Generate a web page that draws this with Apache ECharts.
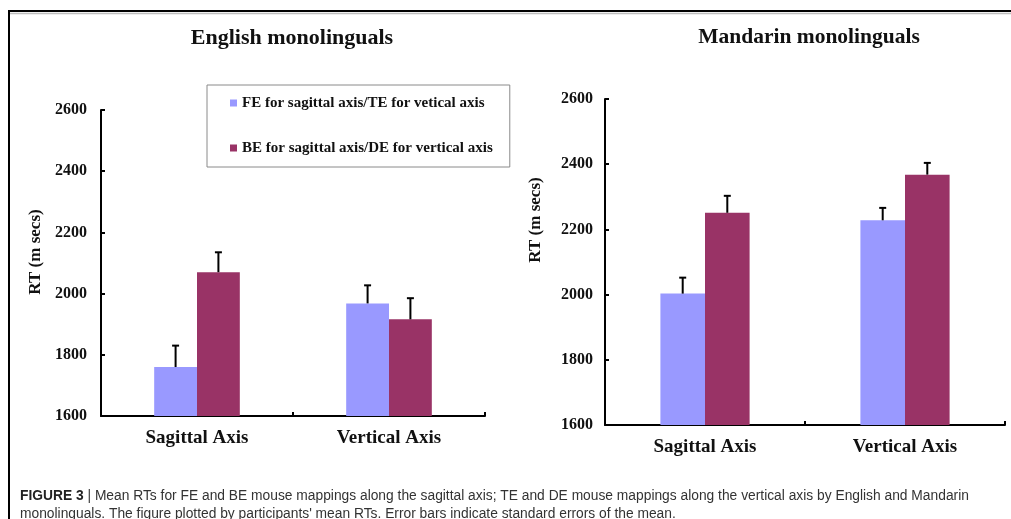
<!DOCTYPE html>
<html>
<head>
<meta charset="utf-8">
<script src="https://cdn.jsdelivr.net/npm/echarts@6/dist/echarts.min.js"></script>
<style>
  html, body { margin: 0; padding: 0; background: #fff; }
  #chart { width: 1011px; height: 519px; }
</style>
</head>
<body>
<div id="chart"></div>
<script>
// Categories and legend names
const categories = ['Sagittal Axis', 'Vertical Axis'];
const seriesNames = [
  'FE for sagittal axis/TE for vetical axis',
  'BE for sagittal axis/DE for vertical axis'
];

// Y-axis ticks (RT in ms)
const yTicks = [1600, 1800, 2000, 2200, 2400, 2600];

// English monolinguals: means and standard errors
const englishFE = [1760, 1968];
const englishFEse = [70, 59];
const englishBE = [2070, 1916];
const englishBEse = [65, 69];

// Mandarin monolinguals: means and standard errors
const mandarinFE = [2003, 2228];
const mandarinFEse = [49, 38];
const mandarinBE = [2251, 2368];
const mandarinBEse = [52, 36];

const COLOR_FE = '#9999FF';
const COLOR_BE = '#993366';
const BAR_FRAC = 0.223;
const SERIF = '"Liberation Serif", "Times New Roman", serif';
const SANS = '"Liberation Sans", Arial, sans-serif';

const chart = echarts.init(document.getElementById('chart'));

function xAxisFor(gridIndex) {
  return {
    type: 'category', gridIndex, data: categories,
    axisLine: { show: true, lineStyle: { color: '#000', width: 2 } },
    axisTick: { show: true, interval: 0, inside: true, length: 4, lineStyle: { color: '#000', width: 2 } },
    axisLabel: { color: '#111', fontFamily: SERIF, fontWeight: 'bold', fontSize: 19, margin: 13 }
  };
}

function yAxisFor(gridIndex, margin) {
  return {
    type: 'value', gridIndex,
    min: yTicks[0], max: yTicks[yTicks.length - 1], interval: yTicks[1] - yTicks[0],
    axisLine: { show: true, lineStyle: { color: '#000', width: 2 } },
    axisTick: { show: true, inside: true, length: 4, lineStyle: { color: '#000', width: 2 } },
    splitLine: { show: false },
    axisLabel: {
      color: '#111', fontFamily: SERIF, fontWeight: 'bold', fontSize: 16, margin,
      formatter: v => String(v)
    }
  };
}

function barSeries(gridIndex, name, values, color) {
  return {
    type: 'bar', name, xAxisIndex: gridIndex, yAxisIndex: gridIndex,
    data: values, barWidth: (BAR_FRAC * 100) + '%', barGap: '0%',
    itemStyle: { color }, silent: true
  };
}

// Upward-only error bars with a short cap, centered on each bar
function errorSeries(gridIndex, means, errs, side) {
  return {
    type: 'custom', xAxisIndex: gridIndex, yAxisIndex: gridIndex, silent: true, z: 5,
    data: means.map((m, i) => [i, m, m + errs[i]]),
    renderItem(params, api) {
      const band = api.size([1, 0])[0];
      const base = api.coord([api.value(0), api.value(1)]);
      const top = api.coord([api.value(0), api.value(2)]);
      const x = base[0] + side * band * BAR_FRAC / 2;
      return {
        type: 'group',
        children: [
          { type: 'line', shape: { x1: x, y1: base[1], x2: x, y2: top[1] }, style: { stroke: '#000', lineWidth: 2 } },
          { type: 'line', shape: { x1: x - 3.5, y1: top[1], x2: x + 3.5, y2: top[1] }, style: { stroke: '#000', lineWidth: 2 } }
        ]
      };
    }
  };
}

function textEl(text, x, y, size, rotation) {
  return {
    type: 'text', x, y, rotation: rotation || 0, silent: true,
    style: {
      text, textAlign: 'center', textVerticalAlign: 'middle',
      fontFamily: SERIF, fontWeight: 'bold', fontSize: size, fill: '#111'
    }
  };
}

const option = {
  animation: false,
  backgroundColor: '#fff',
  grid: [
    { left: 101, top: 110, width: 384, height: 306 },
    { left: 605, top: 99, width: 400, height: 326 }
  ],
  xAxis: [xAxisFor(0), xAxisFor(1)],
  yAxis: [yAxisFor(0, 14), yAxisFor(1, 12)],
  legend: {
    data: seriesNames,
    orient: 'vertical',
    left: 207, top: 85,
    padding: [9, 17, 10, 23],
    itemGap: 27,
    itemWidth: 7, itemHeight: 7,
    icon: 'rect',
    borderColor: '#8a8a8a', borderWidth: 1,
    backgroundColor: '#fff',
    selectedMode: false,
    textStyle: { fontFamily: SERIF, fontWeight: 'bold', fontSize: 15, color: '#111', lineHeight: 18 }
  },
  series: [
    barSeries(0, seriesNames[0], englishFE, COLOR_FE),
    barSeries(0, seriesNames[1], englishBE, COLOR_BE),
    barSeries(1, seriesNames[0], mandarinFE, COLOR_FE),
    barSeries(1, seriesNames[1], mandarinBE, COLOR_BE),
    errorSeries(0, englishFE, englishFEse, -1),
    errorSeries(0, englishBE, englishBEse, 1),
    errorSeries(1, mandarinFE, mandarinFEse, -1),
    errorSeries(1, mandarinBE, mandarinBEse, 1)
  ],
  graphic: [
    // Figure frame
    { type: 'line', silent: true, shape: { x1: 9, y1: 11, x2: 1011, y2: 11 }, style: { stroke: '#000', lineWidth: 2 } },
    { type: 'line', silent: true, shape: { x1: 10, y1: 13.5, x2: 1011, y2: 13.5 }, style: { stroke: '#bdbdbd', lineWidth: 1.5 } },
    { type: 'line', silent: true, shape: { x1: 9, y1: 10, x2: 9, y2: 519 }, style: { stroke: '#000', lineWidth: 2 } },
    // Panel titles
    textEl('English monolinguals', 292, 38, 22),
    textEl('Mandarin monolinguals', 809, 37, 21.5),
    // Y-axis titles
    textEl('RT (m secs)', 36, 252, 17, Math.PI / 2),
    textEl('RT (m secs)', 536, 220, 17, Math.PI / 2),
    // Caption
    {
      type: 'text', x: 20, y: 496, silent: true,
      style: {
        text: '{b|FIGURE 3} | Mean RTs for FE and BE mouse mappings along the sagittal axis; TE and DE mouse mappings along the vertical axis by English and Mandarin',
        textVerticalAlign: 'middle',
        fontFamily: SANS, fontSize: 13.8, fill: '#333',
        rich: { b: { fontWeight: 'bold', fontFamily: SANS, fontSize: 13.8, fill: '#222' } }
      }
    },
    {
      type: 'text', x: 20, y: 514, silent: true,
      style: {
        text: "monolinguals. The figure plotted by participants' mean RTs. Error bars indicate standard errors of the mean.",
        textVerticalAlign: 'middle',
        fontFamily: SANS, fontSize: 13.8, fill: '#333'
      }
    }
  ]
};

chart.setOption(option);
</script>
</body>
</html>
